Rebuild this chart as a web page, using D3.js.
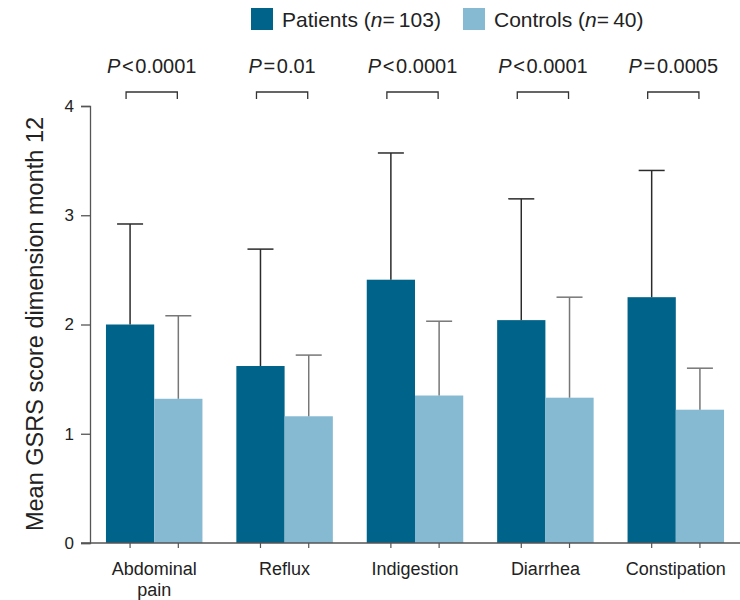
<!DOCTYPE html>
<html>
<head>
<meta charset="utf-8">
<script src="https://cdn.jsdelivr.net/npm/d3@7"></script>
<style>
  body { margin: 0; background: #fff; }
  svg { font-family: "Liberation Sans", Arial, Helvetica, sans-serif; }
</style>
</head>
<body>
<svg id="chart" width="740" height="600"></svg>
<script>
// GSRS dimension scores at month 12
const categories = ["Abdominal pain", "Reflux", "Indigestion", "Diarrhea", "Constipation"];
const categoryLines = [["Abdominal", "pain"], ["Reflux"], ["Indigestion"], ["Diarrhea"], ["Constipation"]];
const seriesNames = ["Patients", "Controls"];
const seriesLabels = [["Patients (", "n", "=\u2009103)"], ["Controls (", "n", "=\u200940)"]];
const patientMeans = [2.00, 1.62, 2.41, 2.04, 2.25];
const patientSD = [0.92, 1.07, 1.16, 1.11, 1.16];
const controlMeans = [1.32, 1.16, 1.35, 1.33, 1.22];
const controlSD = [0.76, 0.56, 0.68, 0.92, 0.38];
const pOps = ["<", "=", "<", "<", "="];
const pValues = ["0.0001", "0.01", "0.0001", "0.0001", "0.0005"];
const yTicks = [0, 1, 2, 3, 4];

const colors = { Patients: "#006389", Controls: "#86bad3" };
const errColors = { Patients: "#2b2b2b", Controls: "#777777" };

const svg = d3.select("#chart");

const y = d3.scaleLinear().domain([0, 4]).range([543, 106]);
const x0 = d3.scaleBand().domain(categories).range([89, 741])
  .paddingInner(0.26).paddingOuter(0.13);
const x1 = d3.scaleBand().domain(seriesNames).range([0, x0.bandwidth()]);

const rows = categories.map((c, i) => ({
  cat: c,
  vals: [
    { s: "Patients", v: patientMeans[i], sd: patientSD[i] },
    { s: "Controls", v: controlMeans[i], sd: controlSD[i] }
  ]
}));

// Bars
const groups = svg.append("g").selectAll("g").data(rows).join("g")
  .attr("transform", d => `translate(${x0(d.cat)},0)`);

groups.selectAll("rect").data(d => d.vals).join("rect")
  .attr("x", d => x1(d.s))
  .attr("y", d => y(d.v))
  .attr("width", x1.bandwidth())
  .attr("height", d => y(0) - y(d.v))
  .attr("fill", d => colors[d.s]);

// Error bars (upper only)
const capHalf = 13;
groups.selectAll("g.err").data(d => d.vals).join("g").attr("class", "err")
  .each(function(d) {
    const g = d3.select(this);
    const cx = x1(d.s) + x1.bandwidth() / 2;
    g.append("line")
      .attr("x1", cx).attr("x2", cx)
      .attr("y1", y(d.v)).attr("y2", y(d.v + d.sd))
      .attr("stroke", errColors[d.s]).attr("stroke-width", 1.5);
    g.append("line")
      .attr("x1", cx - capHalf).attr("x2", cx + capHalf)
      .attr("y1", y(d.v + d.sd)).attr("y2", y(d.v + d.sd))
      .attr("stroke", errColors[d.s]).attr("stroke-width", 1.5);
  });

// Y axis
const yAxis = d3.axisLeft(y).tickValues(yTicks).tickSize(9).tickPadding(7)
  .tickFormat(d3.format("d"));
const gy = svg.append("g").attr("transform", "translate(90,0)").call(yAxis);
gy.select(".domain").attr("stroke", "#555").attr("stroke-width", 1.3);
gy.selectAll(".tick line").attr("stroke", "#555").attr("stroke-width", 1.3);
gy.selectAll(".tick text").attr("font-size", 17).attr("fill", "#222");

// X axis baseline with ticks under each bar
const gx = svg.append("g");
gx.append("line").attr("x1", 81).attr("x2", 740)
  .attr("y1", y(0)).attr("y2", y(0))
  .attr("stroke", "#555").attr("stroke-width", 1.3);
rows.forEach(r => {
  r.vals.forEach(v => {
    const cx = x0(r.cat) + x1(v.s) + x1.bandwidth() / 2;
    gx.append("line").attr("x1", cx).attr("x2", cx)
      .attr("y1", y(0)).attr("y2", y(0) + 5)
      .attr("stroke", "#555").attr("stroke-width", 1.2);
  });
});

// Category labels
categories.forEach((c, i) => {
  const cx = x0(c) + x0.bandwidth() / 2;
  const t = gx.append("text")
    .attr("x", cx)
    .attr("y", 575)
    .attr("text-anchor", "middle")
    .attr("font-size", 18).attr("fill", "#222");
  categoryLines[i].forEach((ln, j) => {
    t.append("tspan").attr("x", cx)
      .attr("dy", j === 0 ? 0 : 21).text(ln);
  });
});

// Y axis title
svg.append("text")
  .attr("transform", "translate(43,324) rotate(-90)")
  .attr("text-anchor", "middle")
  .attr("font-size", 23.5).attr("fill", "#222")
  .text("Mean GSRS score dimension month 12");

// Significance brackets and P values
categories.forEach((c, i) => {
  const left = x0(c) + x1("Patients") + x1.bandwidth() / 2 - 4;
  const right = x0(c) + x1("Controls") + x1.bandwidth() / 2 - 1;
  const top = 92;
  svg.append("path")
    .attr("d", `M${left},${top + 7}V${top}H${right}V${top + 7}`)
    .attr("fill", "none").attr("stroke", "#333").attr("stroke-width", 1.3);
  const t = svg.append("text")
    .attr("x", (left + right) / 2).attr("y", 73)
    .attr("text-anchor", "middle")
    .attr("font-size", 20).attr("fill", "#222");
  t.append("tspan").attr("font-style", "italic").text("P");
  t.append("tspan").text("\u200A" + pOps[i] + "\u200A" + pValues[i]);
});

// Legend
const legendX = [251, 463];
seriesNames.forEach((s, i) => {
  const g = svg.append("g").attr("transform", `translate(${legendX[i]},8)`);
  g.append("rect").attr("width", 22).attr("height", 22).attr("fill", colors[s]);
  const t = g.append("text").attr("x", 31).attr("y", 19)
    .attr("font-size", 21).attr("fill", "#222");
  t.append("tspan").text(seriesLabels[i][0]);
  t.append("tspan").attr("font-style", "italic").text(seriesLabels[i][1]);
  t.append("tspan").text(seriesLabels[i][2]);
});
</script>
</body>
</html>
